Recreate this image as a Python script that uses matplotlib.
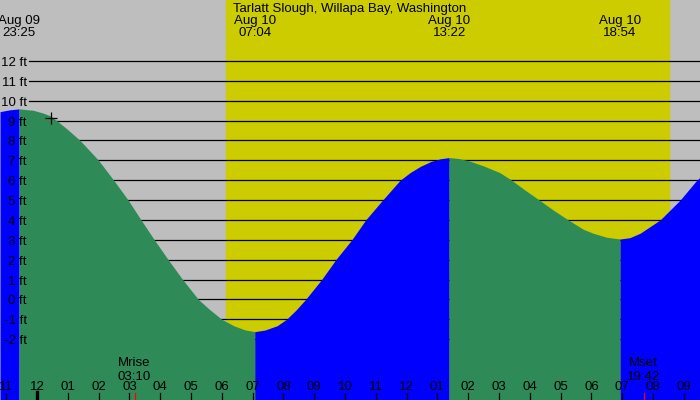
import matplotlib.pyplot as plt
import numpy as np

plt.rcParams['font.family'] = ['Liberation Sans', 'DejaVu Sans']

title = "Tarlatt Slough, Willapa Bay, Washington"

# hours counted from Aug 10 00:00, heights in ft
tide_hours = [-1.20, -0.90, -0.583, -0.12, 0.20, 0.45, 0.96, 1.40, 2.00, 2.49,
              2.96, 3.38, 3.81, 4.26, 4.73, 5.24, 5.60, 6.00, 6.40, 6.75,
              7.07, 7.40, 7.80, 8.10, 8.40, 8.72, 9.24, 9.70, 10.22, 10.67,
              11.22, 11.79, 12.11, 12.45, 12.80, 13.10, 13.38, 13.65, 13.98, 14.50,
              15.03, 15.41, 15.84, 16.31, 16.76, 17.25, 17.74, 18.06, 18.50, 18.93,
              19.25, 19.58, 19.90, 20.23, 20.88, 21.42, 21.53]
tide_feet = [9.45, 9.54, 9.59, 9.52, 9.38, 9.23, 8.60, 8.00, 7.00, 6.00,
             5.00, 4.00, 3.00, 2.00, 1.00, 0.00, -0.50, -1.00, -1.33, -1.53,
             -1.62, -1.54, -1.32, -1.00, -0.55, 0.00, 1.00, 2.00, 3.00, 4.00,
             5.00, 6.00, 6.38, 6.70, 6.95, 7.08, 7.14, 7.10, 7.00, 6.72,
             6.38, 6.00, 5.51, 5.00, 4.50, 4.00, 3.53, 3.33, 3.13, 3.04,
             3.11, 3.33, 3.66, 4.00, 5.00, 6.00, 6.15]

extreme_hours = [-0.583, 7.07, 13.38, 18.93]
extreme_dates = ["Aug 09", "Aug 10", "Aug 10", "Aug 10"]
extreme_clock = ["23:25", "07:04", "13:22", "18:54"]

moon_hours = [3.167, 19.7]
moon_names = ["Mrise", "Mset"]
moon_clock = ["03:10", "19:42"]

sunrise_hour = 6.14
sunset_hour = 20.52

tick_hours = list(range(-1, 22))
tick_labels = ["11", "12", "01", "02", "03", "04", "05", "06", "07", "08", "09", "10",
               "11", "12", "01", "02", "03", "04", "05", "06", "07", "08", "09"]

feet_levels = list(range(-2, 13))

now_hour = 0.45
now_feet = 9.12

gray = "#bebebe"
yellow = "#cccc00"
green = "#2e8b57"
blue = "#0000ff"

fig = plt.figure(figsize=(7, 4), dpi=100)
fig.patch.set_facecolor(gray)
ax = fig.add_axes([0, 0, 1, 1])
ax.set_axis_off()
ax.set_xlim(-1.201, 21.526)
ax.set_ylim(-5.06, 15.07)
ybot = ax.get_ylim()[0]

ax.axvspan(sunrise_hour, sunset_hour, color=yellow, zorder=1)

for f in feet_levels:
    ax.axhline(f, xmin=29 / 700, xmax=1, color="black", lw=0.9, zorder=2)

# green while the tide falls, blue while it rises
t = np.array(tide_hours)
h = np.array(tide_feet)
bounds = [t[0]] + extreme_hours + [t[-1]]
for a, b in zip(bounds[:-1], bounds[1:]):
    col = green if np.interp(b, t, h) < np.interp(a, t, h) else blue
    m = (t >= a) & (t <= b)
    ax.fill_between(t, ybot, h, where=m, color=col, lw=0, zorder=3)

ax.plot(now_hour, now_feet, marker="+", color="black", ms=9, mew=0.9, zorder=5)

xt = ax.get_xaxis_transform()
yt = ax.get_yaxis_transform()
fs = 9.5

for f in feet_levels:
    ax.text(27 / 700, f - 0.1, f"{f} ft", transform=yt, ha="right", va="center",
            fontsize=fs, zorder=6)

for hr, lab in zip(tick_hours, tick_labels):
    ax.text(hr, 0.032, lab, transform=xt, ha="center", va="center", fontsize=fs, zorder=6)
    if hr == 0:
        ax.plot([hr, hr], [0, 0.02], transform=xt, color="black", lw=2.4, zorder=6)
    else:
        ax.plot([hr, hr], [0, 0.0175], transform=xt, color="black", lw=0.9, zorder=6)

for hr, nm, ck in zip(moon_hours, moon_names, moon_clock):
    ax.plot([hr, hr], [0, 0.0175], transform=xt, color="red", lw=0.9, zorder=6)
    ax.text(hr, 0.0925, nm, transform=xt, ha="center", va="center", fontsize=fs, zorder=6)
    ax.text(hr, 0.0575, ck, transform=xt, ha="center", va="center", fontsize=fs, zorder=6)

for hr, d, ck in zip(extreme_hours, extreme_dates, extreme_clock):
    ax.text(hr, 0.9475, d, transform=xt, ha="center", va="center", fontsize=fs, zorder=6)
    ax.text(hr, 0.9175, ck, transform=xt, ha="center", va="center", fontsize=fs, zorder=6)

fig.text(0.5, 0.9775, title, ha="center", va="center", fontsize=fs)

fig.savefig("out.png", dpi=100, facecolor=gray)
